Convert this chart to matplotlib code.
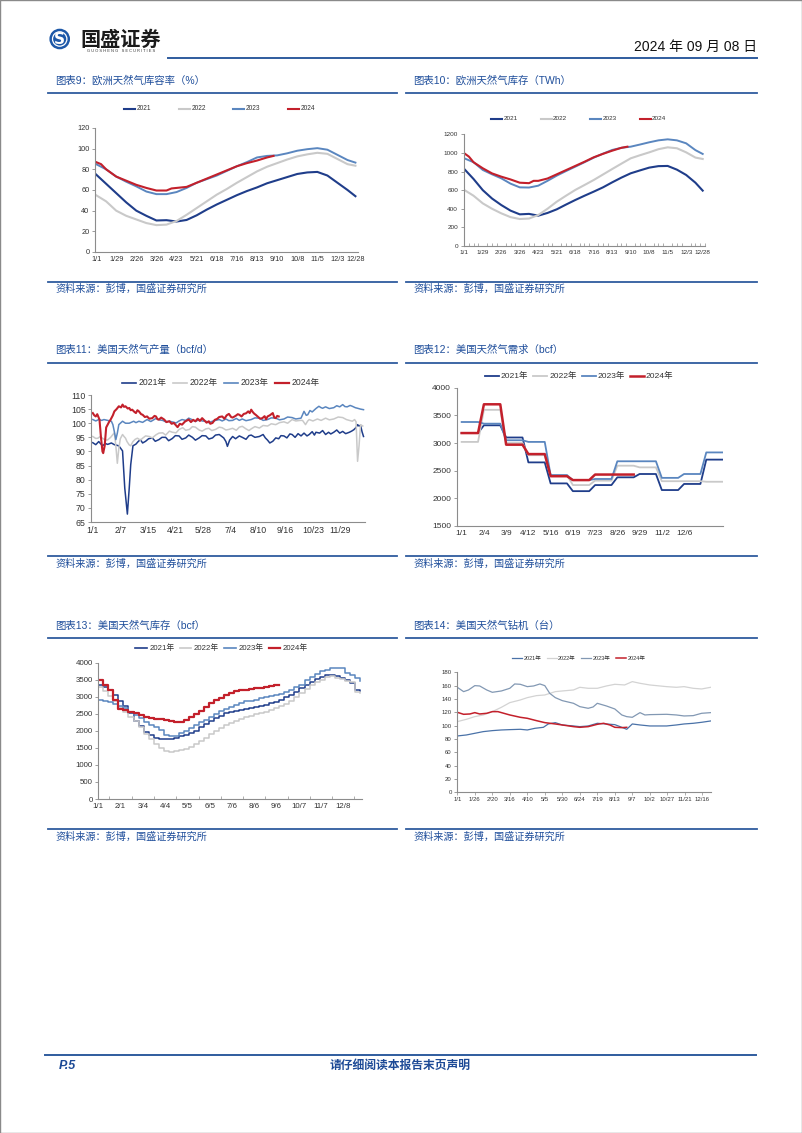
import numpy as np
import matplotlib
matplotlib.use("Agg")
import matplotlib.pyplot as plt
from matplotlib.lines import Line2D
from matplotlib.patches import Circle
from matplotlib.ticker import MultipleLocator

plt.rcParams['font.family'] = ['Liberation Sans', 'Noto Sans CJK SC', 'DejaVu Sans']

W, H = 802, 1133
BLUE = '#1f4e9b'
LINE_BLUE = '#2f5c9e'
C21, C22, C23, C24 = '#1f3d8a', '#c9c9c9', '#5a86bf', '#c3202b'
AXC = '#8c8c8c'
TXT = '#333333'

## ---- data ----
years = ['2021', '2022', '2023', '2024']
years_cn = ['2021年', '2022年', '2023年', '2024年']

# 欧洲天然气库容率 (%) / 库存 (TWh), sampled every 2 weeks
eu_days = [0, 14, 28, 42, 56, 70, 84, 98, 112, 126, 140, 154, 168, 182, 196, 210,
           224, 238, 252, 266, 280, 294, 308, 322, 336, 350, 361]
eu_days_24 = [0, 7, 14, 28, 42, 56, 70, 84, 98, 105, 112, 126, 140, 154, 168, 182,
              196, 210, 224, 238, 247]
eu_pct_21 = [75, 66, 57, 48, 40, 35, 30.5, 30.8, 29.5, 31, 35.5, 41, 46, 50.5, 55, 59,
             62.5, 66.5, 69.5, 72.5, 75.5, 77, 77.5, 74, 67, 60, 54]
eu_pct_22 = [55, 49, 40, 35, 31.5, 28, 26, 26.5, 30, 36, 42.5, 49, 55.5, 61, 67, 72.5,
             78, 82.5, 86, 89.5, 92.5, 94.5, 96, 95, 90, 85, 83.5]
eu_pct_23 = [85, 80, 73, 68, 63.5, 58.5, 56, 56, 58, 62, 67, 70.5, 74, 78.5, 83, 87,
             91.5, 93, 93.5, 95.5, 98, 99.5, 100.5, 99, 94, 89, 86.5]
eu_pct_24 = [87, 85, 80, 73, 69, 65, 62, 59.5, 59.5, 61.5, 62, 63, 67, 71, 75, 79,
             83, 86, 88.5, 91.5, 93]
eu_twh_21 = [827, 720, 600, 510, 440, 380, 340, 345, 326, 355, 394, 445, 494, 540, 584,
             630, 684, 735, 781, 812, 842, 858, 860, 820, 763, 680, 595]
eu_twh_22 = [602, 540, 458, 400, 351, 310, 290, 295, 333, 400, 476, 540, 602, 655, 709,
             768, 827, 885, 942, 975, 1006, 1040, 1060, 1050, 1006, 950, 935]
eu_twh_23 = [942, 900, 817, 770, 727, 670, 630, 628, 648, 700, 756, 805, 852, 900, 949,
             992, 1032, 1055, 1067, 1090, 1114, 1135, 1146, 1135, 1103, 1030, 989]
eu_twh_24 = [996, 960, 900, 835, 780, 745, 715, 680, 675, 700, 700, 725, 770, 815, 860,
             905, 953, 990, 1024, 1055, 1067]
eu_tick_days = [0, 28, 56, 84, 112, 140, 168, 196, 224, 252, 280, 308, 336, 361]
eu_tick_labels = ['1/1', '1/29', '2/26', '3/26', '4/23', '5/21', '6/18', '7/16', '8/13',
                  '9/10', '10/8', '11/5', '12/3', '12/28']

# 美国天然气产量 (bcf/d)
prod_d21 = [0, 4, 8, 13, 17, 20, 25, 29, 35, 40, 43, 46.5, 49, 51, 54, 58, 61, 64, 67, 71,
            75, 80, 84, 89, 93, 98, 102, 107, 111, 116, 120, 125, 129, 134, 138, 143, 147,
            152, 156, 161, 165, 170, 176, 179, 181, 184, 188, 192, 197, 201, 206, 210, 213,
            218, 224, 229, 232, 235, 238, 242, 246, 250, 253, 257, 261, 265, 268, 272, 276,
            280, 284, 288, 291, 295, 298, 300, 305, 309, 313, 317, 320, 324, 328, 332, 336,
            340, 345, 348, 351, 354, 356, 358, 360, 362, 364]
prod_v21 = [93.1, 92.4, 93.5, 92.0, 92.8, 92.5, 93.0, 92.4, 92.0, 90.2, 77, 67.8, 77, 85.3,
            92, 92.6, 93.5, 94.2, 93.0, 93.6, 94.5, 94.8, 93.6, 94.2, 95.0, 95.0, 93.8, 94.6,
            95.6, 95.5, 94.3, 94.8, 95.8, 95.0, 94.0, 94.8, 95.6, 95.5, 94.4, 94.8, 95.8,
            96.0, 94.8, 93.5, 91.8, 94.0, 95.3, 94.5, 95.5, 95.0, 94.3, 95.6, 95.8, 95.0,
            95.3, 96.0, 94.8, 94.0, 93.0, 93.6, 94.8, 94.5, 95.6, 95.5, 94.8, 96.2, 96.0,
            95.0, 96.3, 95.5, 96.5, 95.5, 96.0, 97.0, 95.8, 96.8, 96.5, 97.4, 96.0, 96.8,
            96.2, 96.8, 97.6, 96.5, 97.1, 96.3, 96.8, 97.2, 97.7, 98.5, 99.5, 99.0, 99.3,
            97.0, 95.3]
prod_d22 = [0, 4, 7, 10, 13, 17, 20, 24, 27, 29, 31, 33, 35, 37, 40, 42, 44, 46, 49, 51, 54,
            57, 60, 64, 67, 71, 76, 80, 85, 89, 94, 98, 103, 107, 112, 116, 121, 125, 130,
            134, 138, 143, 147, 152, 156, 160, 165, 170, 174, 179, 183, 188, 193, 197, 201,
            206, 210, 213, 218, 224, 229, 235, 240, 246, 251, 257, 262, 268, 273, 279, 282,
            286, 289, 291, 296, 302, 307, 313, 318, 324, 330, 336, 341, 345, 349, 352, 354,
            356, 358, 360, 363]
prod_v22 = [95.3, 94.6, 94.7, 95.3, 94.7, 94.0, 94.1, 95.0, 96.0, 96.6, 92.0, 85.8, 91.0,
            94.5, 96.0, 95.3, 94.7, 93.5, 92.3, 92.0, 93.5, 94.3, 94.7, 94.0, 94.7, 95.5,
            95.3, 94.8, 95.9, 96.5, 96.6, 95.8, 97.2, 96.8, 96.6, 97.8, 98.4, 97.5, 97.8,
            98.8, 98.6, 97.6, 97.2, 98.0, 98.2, 97.4, 97.8, 98.6, 98.4, 97.6, 97.8, 98.2,
            97.5, 98.6, 98.9, 98.0, 97.4, 98.0, 98.8, 98.3, 99.2, 99.0, 99.8, 99.5, 100.2,
            100.5, 100.0, 101.3, 100.8, 101.0, 101.0, 99.5, 100.8, 101.3, 100.8, 101.5,
            101.0, 101.8, 101.2, 101.5, 102.2, 102.0, 101.3, 101.0, 100.7, 101.3, 100.5,
            86.5, 92.0, 99.5, 99.0]
prod_d23 = [0, 4, 8, 12, 15, 20, 25, 27, 29, 31, 33, 35, 40, 44, 49, 55, 58, 62, 67, 73, 78,
            85, 89, 94, 98, 103, 108, 112, 116, 120, 125, 129, 134, 138, 143, 147, 152, 156,
            161, 165, 170, 174, 179, 183, 188, 193, 197, 201, 206, 213, 218, 224, 229, 235,
            240, 246, 251, 257, 262, 268, 273, 280, 284, 287, 289, 292, 295, 300, 304, 307,
            309, 313, 318, 324, 328, 332, 336, 339, 342, 346, 349, 353, 356, 360, 364]
prod_v23 = [101.3, 100.8, 101.3, 101.0, 101.3, 101.0, 100.7, 99.5, 97.0, 94.2, 96.5, 99.5,
            100.7, 100.0, 100.0, 100.7, 100.2, 100.7, 100.3, 101.3, 100.6, 101.7, 101.2,
            101.0, 100.5, 100.7, 100.4, 100.1, 100.8, 101.3, 101.0, 101.8, 101.2, 100.6,
            101.3, 100.8, 100.7, 100.2, 100.7, 101.0, 101.3, 100.8, 101.5, 100.9, 101.0,
            101.7, 101.0, 101.5, 100.9, 101.3, 101.9, 101.8, 101.0, 101.3, 101.9, 101.8,
            101.2, 101.5, 102.2, 102.0, 101.5, 101.8, 104.2, 102.8, 103.0, 104.5, 104.0,
            105.2, 106.0, 105.5, 105.3, 105.8, 105.2, 105.5, 106.2, 105.8, 106.6, 105.9,
            105.8, 106.3, 106.0, 105.5, 105.3, 105.0, 104.8]
prod_d24 = [0, 2, 4, 6, 9, 11, 13, 14, 16, 18, 20, 22, 24, 27, 29, 32, 35, 38, 40, 42, 44,
            47, 49, 51, 53, 56, 58, 60, 62, 65, 67, 70, 73, 76, 80, 83, 85, 87, 89, 92, 96,
            99, 103, 106, 109, 112, 114, 117, 120, 124, 129, 132, 135, 138, 141, 144, 147,
            150, 153, 156, 158, 161, 164, 167, 170, 174, 177, 180, 183, 186, 188, 192, 195,
            197, 200, 203, 206, 209, 211, 213, 215, 217, 219, 222, 225, 228, 231, 233, 235,
            238, 240, 242, 244, 246, 248, 250]
prod_v24 = [103.6, 102.8, 102.4, 103.2, 101.3, 95.0, 90.0, 89.4, 92.0, 98.5, 99.5, 100.5,
            101.3, 102.8, 104.2, 105.0, 106.0, 105.6, 106.6, 105.8, 106.0, 105.2, 105.4,
            104.6, 104.8, 104.0, 103.6, 104.6, 104.2, 103.2, 103.0, 102.2, 102.4, 101.6,
            101.8, 102.6, 102.4, 101.4, 101.3, 102.0, 101.3, 100.4, 100.7, 99.8, 100.1, 99.2,
            98.6, 99.8, 99.5, 100.6, 101.3, 100.4, 101.2, 100.7, 101.6, 100.8, 101.8, 101.0,
            100.2, 100.7, 99.8, 100.1, 101.2, 101.5, 102.2, 102.4, 101.6, 102.8, 103.3,
            102.2, 102.0, 102.6, 103.2, 103.0, 102.4, 103.3, 103.5, 104.2, 103.6, 104.8,
            104.0, 103.4, 103.0, 102.3, 101.6, 101.8, 102.5, 101.4, 102.4, 102.8, 103.2,
            103.6, 102.0, 101.8, 102.6, 102.4]
prod_tick_days = [0, 37, 74, 111, 148, 185, 222, 259, 296, 333]
prod_tick_labels = ['1/1', '2/7', '3/15', '4/21', '5/28', '7/4', '8/10', '9/16', '10/23', '11/29']

# 美国天然气需求 (bcf), monthly
dem_21 = [3180, 3320, 3100, 2650, 2270, 2130, 2240, 2380, 2440, 2150, 2260, 2700]
dem_22 = [3020, 3600, 3000, 2780, 2420, 2240, 2320, 2590, 2560, 2310, 2310, 2300]
dem_23 = [3380, 3350, 3050, 3020, 2420, 2330, 2350, 2670, 2670, 2370, 2440, 2830]
dem_24 = [3180, 3700, 2970, 2800, 2400, 2330, 2430, 2430]
dem_tick_days = [0, 34, 68, 102, 136, 170, 204, 238, 272, 306, 340]
dem_tick_labels = ['1/1', '2/4', '3/9', '4/12', '5/16', '6/19', '7/23', '8/26', '9/29', '11/2', '12/6']

# 美国天然气库存 (bcf), weekly
stor_21 = [3360, 3280, 3200, 3050, 2880, 2740, 2520, 2300, 2130, 1980, 1870, 1790, 1770,
           1760, 1750, 1790, 1840, 1890, 1930, 2010, 2100, 2200, 2300, 2380, 2450, 2510,
           2540, 2570, 2600, 2640, 2670, 2700, 2740, 2770, 2810, 2850, 2900, 2980, 3060,
           3150, 3250, 3360, 3440, 3520, 3590, 3630, 3640, 3600, 3550, 3490, 3400, 3200, 3180]
stor_22 = [3300, 3180, 3020, 2870, 2700, 2560, 2420, 2280, 2100, 1920, 1770, 1620, 1500,
           1420, 1390, 1400, 1440, 1480, 1520, 1600, 1690, 1790, 1900, 1990, 2080, 2160,
           2230, 2290, 2350, 2400, 2440, 2480, 2510, 2550, 2600, 2660, 2720, 2800, 2890,
           3000, 3100, 3230, 3340, 3420, 3500, 3580, 3600, 3560, 3520, 3470, 3420, 3140, 3120]
stor_23 = [2900, 2880, 2860, 2800, 2720, 2660, 2560, 2460, 2380, 2260, 2180, 2100, 2030,
           1880, 1840, 1860, 1950, 2010, 2090, 2160, 2250, 2330, 2420, 2500, 2570, 2640,
           2700, 2770, 2830, 2870, 2890, 2920, 2950, 2980, 3010, 3050, 3090, 3130, 3200,
           3280, 3360, 3480, 3570, 3680, 3760, 3800, 3830, 3840, 3840, 3700, 3640, 3560, 3470]
stor_24 = [3500, 3340, 3200, 2900, 2640, 2600, 2560, 2520, 2470, 2420, 2380, 2350, 2340,
           2320, 2300, 2270, 2260, 2330, 2420, 2500, 2580, 2700, 2820, 2900, 2970, 3040,
           3110, 3160, 3190, 3210, 3230, 3250, 3270, 3290, 3310, 3340, 3350]
stor_tick_days = [0, 31, 62, 93, 124, 155, 186, 217, 248, 279, 310, 341]
stor_tick_labels = ['1/1', '2/1', '3/4', '4/4', '5/5', '6/5', '7/6', '8/6', '9/6', '10/7', '11/7', '12/8']

# 美国天然气钻机 (台)
rig_d21 = [0, 13, 25, 37, 50, 63, 75, 90, 100, 111, 123, 130, 140, 150, 166, 175, 187, 200,
           213, 225, 235, 242, 250, 261, 275, 299, 313, 324, 337, 349, 362]
rig_v21 = [84.5, 86, 88.5, 91, 92.5, 93.5, 94, 94.5, 93.5, 96, 97.5, 102.5, 104.5, 101, 99.5,
           98.5, 99.5, 103.5, 102.5, 101.5, 97.5, 94.5, 102.5, 101, 99.5, 99.5, 101, 102.5,
           103.5, 105, 107]
rig_d22 = [0, 13, 25, 37, 50, 63, 75, 90, 100, 113, 125, 140, 150, 166, 175, 187, 200, 213,
           225, 239, 250, 261, 275, 299, 313, 324, 337, 349, 362]
rig_v22 = [106, 109.5, 113.5, 116, 121, 127.5, 134.5, 138.5, 142, 145, 146, 151, 152, 153.5,
           157.5, 156, 156, 159.5, 162, 161, 166, 163.5, 161, 158.5, 157.5, 158.5, 156, 155,
           157.5]
rig_d23 = [0, 9, 16, 25, 32, 42, 50, 63, 75, 82, 90, 100, 109, 118, 125, 132, 140, 150, 166,
           175, 187, 194, 200, 213, 225, 235, 242, 250, 261, 268, 275, 299, 313, 324, 337,
           349, 362]
rig_v23 = [157.5, 151, 153.5, 160, 159.5, 153.5, 150, 152, 156, 162.5, 162, 158.5, 159.5,
           162.5, 160, 148.5, 142, 137.5, 133.5, 128.5, 126, 128, 133.5, 129.5, 125, 116,
           113.5, 112.5, 119.5, 116, 116.5, 117, 116, 114.5, 115, 118.5, 119.5]
rig_d24 = [0, 9, 18, 25, 32, 42, 50, 58, 75, 90, 100, 113, 125, 140, 150, 166, 175, 187, 200,
           209, 218, 225, 235, 242]
rig_v24 = [120, 117, 117.5, 119.5, 117.5, 118.5, 121, 121, 116, 112.5, 111, 107.5, 104.5,
           102.5, 101, 98.5, 97.5, 98.5, 102, 103.5, 101, 97.5, 97, 97.5]
rig_tick_days = [0, 25, 50, 75, 100, 125, 150, 175, 200, 225, 250, 275, 300, 325, 350]
rig_tick_labels = ['1/1', '1/26', '2/20', '3/16', '4/10', '5/5', '5/30', '6/24', '7/19',
                   '8/13', '9/7', '10/2', '10/27', '11/21', '12/16']

## ---- page ----
fig = plt.figure(figsize=(W / 100, H / 100), dpi=100)


def fx(x):
    return x / W


def fy(y):
    return 1 - y / H


def hline(x0, x1, y, color=LINE_BLUE, lw=1.3):
    fig.add_artist(Line2D([fx(x0), fx(x1)], [fy(y), fy(y)], color=color, lw=lw,
                          transform=fig.transFigure))


def legend(x0, y, step, hlen, gap, labels, colors, lws, size):
    for i, (lab, c, lw) in enumerate(zip(labels, colors, lws)):
        xs = x0 + i * step
        fig.add_artist(Line2D([fx(xs), fx(xs + hlen)], [fy(y), fy(y)], color=c, lw=lw,
                              transform=fig.transFigure))
        fig.text(fx(xs + hlen + gap), fy(y), lab, fontsize=size, ha='left', va='center',
                 color=TXT)


def make_ax(left, top, right, bottom, xlim, ylim, ystep, size):
    ax = fig.add_axes([fx(left), fy(bottom), (right - left) / W, (bottom - top) / H])
    ax.set_xlim(*xlim)
    ax.set_ylim(*ylim)
    ax.patch.set_alpha(0)
    for s in ['top', 'right']:
        ax.spines[s].set_visible(False)
    for s in ['left', 'bottom']:
        ax.spines[s].set_color(AXC)
        ax.spines[s].set_linewidth(0.8)
    ax.yaxis.set_major_locator(MultipleLocator(ystep))
    ax.tick_params(axis='y', length=2, width=0.6, color=AXC, labelsize=size,
                   labelcolor=TXT, pad=2)
    ax.tick_params(axis='x', length=0, labelsize=size, labelcolor=TXT, pad=3)
    return ax


# border
fig.add_artist(plt.Rectangle((0.0006, 0.0004), 0.9988, 0.9992, fill=False, ec='#8a8a8a',
                             lw=1.0, transform=fig.transFigure))

# logo
lax = fig.add_axes([fx(40), fy(59), 40 / W, 40 / H])
lax.set_xlim(0, 40)
lax.set_ylim(0, 40)
lax.axis('off')
lax.add_patch(Circle((19.7, 20), 9.6, color='#1d58a8'))
lax.add_patch(Circle((19.7, 20), 7.2, fill=False, ec='white', lw=0.9))
lax.text(19.7, 19.6, 'S', color='white', fontsize=11, fontweight='bold', ha='center',
         va='center', family=['DejaVu Sans'])
fig.text(fx(80), fy(39), '国盛证券', fontsize=14.5, fontweight='bold', color='#1b1b1b',
         ha='left', va='center', family=['Noto Sans CJK SC'])
fig.text(fx(121.5), fy(51.5), 'G U O S H E N G   S E C U R I T I E S', fontsize=2.9,
         color='#333333', ha='center', va='center')
hline(168, 757, 57.7, lw=1.4)
fig.text(fx(757), fy(47), '2024 年 09 月 08 日', fontsize=10, color='#111111',
         ha='right', va='center')

# footer
hline(45, 756, 1055, lw=1.4)
fig.text(fx(59), fy(1066), 'P.5', fontsize=9, fontweight='bold', style='italic',
         color='#1d4a96', ha='left', va='center')
fig.text(fx(400), fy(1066), '请仔细阅读本报告末页声明', fontsize=8.5, fontweight='bold',
         color='#1d4a96', ha='center', va='center')

# panel frames
panels = [
    (55, 48, 397, 81, 93, 281.5, 289, '图表9：欧洲天然气库容率（%）'),
    (413, 406, 757, 81, 93, 281.5, 289, '图表10：欧洲天然气库存（TWh）'),
    (55, 48, 397, 350, 363, 556, 564, '图表11：美国天然气产量（bcf/d）'),
    (413, 406, 757, 350, 363, 556, 564, '图表12：美国天然气需求（bcf）'),
    (55, 48, 397, 626, 637.7, 829, 836.7, '图表13：美国天然气库存（bcf）'),
    (413, 406, 757, 626, 637.7, 829, 836.7, '图表14：美国天然气钻机（台）'),
]
for tx, l0, l1, ty, tl, sl, st, title in panels:
    fig.text(fx(tx), fy(ty), title, fontsize=7.5, color=BLUE, ha='left', va='center')
    hline(l0, l1, tl, lw=1.3)
    hline(l0, l1, sl, lw=1.3)
    fig.text(fx(tx), fy(st), '资料来源：彭博，国盛证券研究所', fontsize=7.3, color=BLUE,
             ha='left', va='center')

colors = [C21, C22, C23, C24]

# 图表9
ax = make_ax(95, 128, 358.3, 252, (-1.5, 365), (0, 120), 20, 5.3)
ax.plot(eu_days, eu_pct_21, color=C21, lw=1.5)
ax.plot(eu_days, eu_pct_22, color=C22, lw=1.5)
ax.plot(eu_days, eu_pct_23, color=C23, lw=1.4)
ax.plot(eu_days_24, eu_pct_24, color=C24, lw=1.5)
ax.set_xticks(eu_tick_days)
ax.set_xticklabels(eu_tick_labels)
legend(124, 109, 54.5, 11, 2, years, colors, [1.5] * 4, 4.7)

# 图表10
ax = make_ax(463.7, 134.3, 705, 246, (-0.9, 364.5), (0, 1200), 200, 4.6)
ax.plot(eu_days, eu_twh_21, color=C21, lw=1.5)
ax.plot(eu_days, eu_twh_22, color=C22, lw=1.5)
ax.plot(eu_days, eu_twh_23, color=C23, lw=1.4)
ax.plot(eu_days_24, eu_twh_24, color=C24, lw=1.5)
ax.set_xticks(eu_tick_days)
ax.set_xticklabels(eu_tick_labels)
ax.xaxis.set_minor_locator(MultipleLocator(7))
ax.tick_params(axis='x', which='minor', direction='in', length=2, width=0.5, color=AXC)
legend(491, 119, 49.5, 11, 1.5, years, colors, [1.5] * 4, 4.6)

# 图表11
ax = make_ax(91.3, 395, 365, 522, (-2, 366), (65, 110), 5, 6.3)
ax.plot(prod_d21, prod_v21, color=C21, lw=1.1)
ax.plot(prod_d22, prod_v22, color=C22, lw=1.1)
ax.plot(prod_d23, prod_v23, color=C23, lw=1.1)
ax.plot(prod_d24, prod_v24, color=C24, lw=1.5)
ax.set_xticks(prod_tick_days)
ax.set_xticklabels(prod_tick_labels)
legend(121.7, 383, 51, 14, 2.5, years_cn, colors, [1.2, 1.2, 1.2, 1.6], 6.2)

# 图表12
MSPAN, MFLAT = 34, 25


def month_steps(vals):
    xs, ys = [], []
    for m, v in enumerate(vals):
        xs += [m * MSPAN, m * MSPAN + MFLAT]
        ys += [v, v]
    return xs, ys


ax = make_ax(456.7, 387.7, 723.3, 526, (-7.6, 400), (1500, 4000), 500, 6)
for vals, c, lw in zip([dem_21, dem_22, dem_23, dem_24], colors, [1.3, 1.3, 1.3, 1.8]):
    xs, ys = month_steps(vals)
    ax.plot(xs, ys, color=c, lw=lw)
ax.set_xticks(dem_tick_days)
ax.set_xticklabels(dem_tick_labels)
legend(485, 375.7, 48.3, 14, 2, years_cn, colors, [1.3, 1.3, 1.3, 1.8], 6.1)

# 图表13
ax = make_ax(98.3, 662.7, 361.7, 799, (0, 366.6), (0, 4000), 500, 5.7)
for vals, c, lw in zip([stor_21, stor_22, stor_23, stor_24], colors, [1.1, 1.1, 1.1, 1.6]):
    ax.plot(np.arange(len(vals)) * 7, vals, color=c, lw=lw, drawstyle='steps-post')
ax.set_xticks(stor_tick_days)
ax.set_xticklabels(stor_tick_labels)
ax.xaxis.set_minor_locator(MultipleLocator(15.5))
ax.tick_params(axis='x', which='minor', direction='in', length=2.5, width=0.5, color=AXC)
legend(135, 648.3, 44.5, 11.7, 2.6, years_cn, colors, [1.2, 1.2, 1.2, 1.6], 5.6)

# 图表14
C14 = ['#4a72a8', '#d3d3d3', '#8298b3', '#c3202b']
ax = make_ax(457.3, 672.3, 710.7, 792.3, (0, 362), (0, 180), 20, 4.3)
ax.plot(rig_d21, rig_v21, color=C14[0], lw=0.9)
ax.plot(rig_d22, rig_v22, color=C14[1], lw=0.9)
ax.plot(rig_d23, rig_v23, color=C14[2], lw=0.9)
ax.plot(rig_d24, rig_v24, color=C14[3], lw=1.1)
ax.set_xticks(rig_tick_days)
ax.set_xticklabels(rig_tick_labels)
ax.tick_params(axis='x', length=2, width=0.5, color=AXC, direction='out', pad=1.5)
legend(511.7, 658.3, 34.8, 10, 1.6, years_cn, C14, [0.9, 0.9, 0.9, 1.1], 4.0)

fig.savefig('out.png', dpi=100)
